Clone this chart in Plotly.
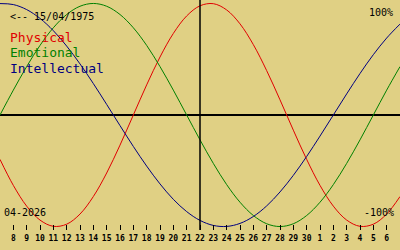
import plotly.graph_objects as go

# Day index (April 2026; 31.. = May)
days = list(range(7, 38))
physical = [-0.398, -0.631, -0.817, -0.942, -0.998, -0.979, -0.888, -0.731, -0.520, -0.270,
            0.0, 0.270, 0.520, 0.731, 0.888, 0.979, 0.998, 0.942, 0.817, 0.631,
            0.398, 0.136, -0.136, -0.398, -0.631, -0.817, -0.942, -0.998, -0.979, -0.888, -0.731]
emotional = [0.0, 0.223, 0.434, 0.624, 0.782, 0.901, 0.975, 1.0, 0.975, 0.901,
             0.782, 0.624, 0.434, 0.223, 0.0, -0.223, -0.434, -0.624, -0.782, -0.901,
             -0.975, -1.0, -0.975, -0.901, -0.782, -0.624, -0.434, -0.223, 0.0, 0.223, 0.434]
intellectual = [0.999, 0.990, 0.945, 0.866, 0.756, 0.618, 0.458, 0.282, 0.095, -0.095,
                -0.282, -0.458, -0.618, -0.756, -0.866, -0.945, -0.990, -0.999, -0.972, -0.910,
                -0.815, -0.690, -0.541, -0.372, -0.189, 0.0, 0.189, 0.372, 0.541, 0.690, 0.815]

tick_vals = list(range(8, 37))
tick_text = [str(d) for d in range(8, 31)] + [str(d) for d in range(1, 7)]
today = 22
birth_label = "<-- 15/04/1975"
month_label = "04-2026"

BG = "#E0D084"
series = [("Physical", physical, "#E00000"),
          ("Emotional", emotional, "#008000"),
          ("Intellectual", intellectual, "#000080")]

fig = go.Figure()
for name, vals, col in series:
    fig.add_trace(go.Scatter(x=days, y=vals, mode="lines", name=name,
                             line=dict(color=col, width=1, shape="spline"),
                             hoverinfo="skip"))

fig.add_shape(type="line", xref="x", yref="paper", x0=today, x1=today, y0=0, y1=1,
              line=dict(color="black", width=1.5))

MONO = "DejaVu Sans Mono"
anns = [
    dict(text=birth_label, x=0.022, y=0.928, color="black", size=10, xanchor="left"),
    dict(text="Physical", x=0.022, y=0.838, color="#E00000", size=13, xanchor="left"),
    dict(text="Emotional", x=0.022, y=0.772, color="#008000", size=13, xanchor="left"),
    dict(text="Intellectual", x=0.022, y=0.704, color="#000080", size=13, xanchor="left"),
    dict(text="100%", x=0.986, y=0.945, color="black", size=10, xanchor="right"),
    dict(text="-100%", x=0.988, y=0.078, color="black", size=10, xanchor="right"),
    dict(text=month_label, x=0.008, y=0.078, color="black", size=10, xanchor="left"),
]
for a in anns:
    fig.add_annotation(text=a["text"], x=a["x"], y=a["y"], xref="paper", yref="paper",
                       xanchor=a["xanchor"], yanchor="middle", showarrow=False,
                       font=dict(family=MONO, size=a["size"], color=a["color"]),
                       borderpad=0)

fig.update_layout(
    width=400, height=250,
    margin=dict(l=0, r=0, t=0, b=20),
    paper_bgcolor=BG, plot_bgcolor=BG,
    showlegend=False,
    xaxis=dict(range=[7, 37], tickvals=tick_vals, ticktext=tick_text,
               ticks="inside", ticklen=5, tickwidth=1, tickcolor="black",
               ticklabelstandoff=2,
               showgrid=False, zeroline=False, showline=False,
               tickfont=dict(family=MONO, size=8, color="black", weight="bold"),
               fixedrange=True),
    yaxis=dict(range=[-1.031, 1.031], showticklabels=False, ticks="",
               showgrid=False, zeroline=True, zerolinecolor="black", zerolinewidth=1.5,
               showline=False, fixedrange=True),
)

fig.write_html("out.html", config={"displayModeBar": False})
